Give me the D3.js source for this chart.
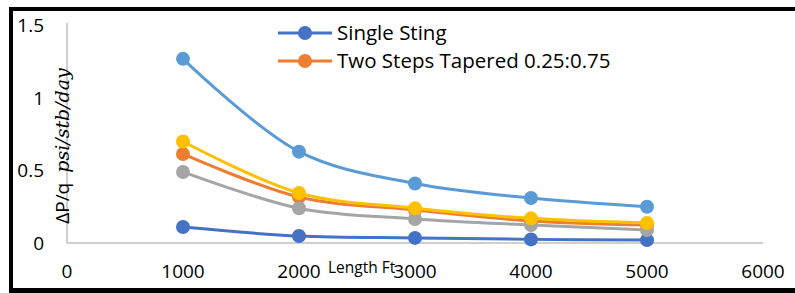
<html>
<head>
  <script src="https://d3js.org/d3.v7.min.js"></script>
</head>
<style>
  body { margin: 0; background: white; }
  text { font-family: "Open Sans", sans-serif; fill: #000; }
</style>
<body>
  <svg id="chart" width="795" height="293"></svg>
  <script>
    // data
    const lengths = [1000, 2000, 3000, 4000, 5000];
    const singleSting = [0.11, 0.048, 0.035, 0.025, 0.02];
    const twoSteps = [0.614, 0.317, 0.228, 0.152, 0.124];
    const seriesGray = [0.49, 0.24, 0.166, 0.124, 0.09];
    const seriesYellow = [0.70, 0.345, 0.24, 0.17, 0.138];
    const seriesLightBlue = [1.27, 0.63, 0.41, 0.31, 0.25];
    const xTicks = [0, 1000, 2000, 3000, 4000, 5000, 6000];
    const yTicks = [0, 0.5, 1, 1.5];
    const legendNames = ["Single Sting", "Two Steps Tapered 0.25:0.75"];

    const series = [
      { name: legendNames[0], values: singleSting, color: "#4472C4" },
      { name: legendNames[1], values: twoSteps, color: "#ED7D31" },
      { name: "Series 3", values: seriesGray, color: "#A5A5A5" },
      { name: "Series 4", values: seriesYellow, color: "#FFC000" },
      { name: "Series 5", values: seriesLightBlue, color: "#5B9BD5" }
    ];

    const svg = d3.select("svg#chart");
    const width = +svg.attr("width");
    const height = +svg.attr("height");

    const xScale = d3.scaleLinear().domain([0, 6000]).range([67, 763]);
    const yScale = d3.scaleLinear().domain([0, 1.5]).range([243, 25.5]);

    // outer frame (thick black on top, left, bottom)
    svg.append("rect").attr("x", 0).attr("y", 0).attr("width", width).attr("height", height).attr("fill", "white");
    svg.append("line").attr("x1", 9).attr("x2", width).attr("y1", 9).attr("y2", 9)
      .attr("stroke", "black").attr("stroke-width", 4);
    svg.append("line").attr("x1", 11).attr("x2", 11).attr("y1", 7).attr("y2", 293)
      .attr("stroke", "black").attr("stroke-width", 4);
    svg.append("line").attr("x1", 9).attr("x2", width).attr("y1", 290.5).attr("y2", 290.5)
      .attr("stroke", "black").attr("stroke-width", 5);

    // axis lines
    svg.append("line").attr("x1", xScale(0)).attr("x2", xScale(0))
      .attr("y1", 23).attr("y2", yScale(0))
      .attr("stroke", "#BFBFBF").attr("stroke-width", 1.5);
    svg.append("line").attr("x1", xScale(0)).attr("x2", xScale(6000))
      .attr("y1", yScale(0)).attr("y2", yScale(0))
      .attr("stroke", "#BFBFBF").attr("stroke-width", 1.5);

    // tick labels
    svg.append("g").selectAll("text").data(yTicks).join("text")
      .attr("x", 44).attr("y", d => yScale(d))
      .attr("dy", "0.35em")
      .attr("text-anchor", "end")
      .attr("font-size", 19)
      .text(d => d);

    svg.append("g").selectAll("text").data(xTicks).join("text")
      .attr("x", d => xScale(d)).attr("y", 278)
      .attr("text-anchor", "middle")
      .attr("font-size", 19)
      .text(d => d);

    // axis titles
    svg.append("text").attr("x", 328).attr("y", 273)
      .attr("font-size", 15.5).text("Length Ft");

    const yTitle = svg.append("text")
      .attr("transform", "translate(69,146) rotate(-90)")
      .attr("text-anchor", "middle")
      .attr("font-size", 19);
    yTitle.append("tspan").text("ΔP/q");
    yTitle.append("tspan")
      .attr("dx", 10)
      .attr("font-family", "'DejaVu Serif', serif")
      .attr("font-style", "italic")
      .attr("font-size", 19)
      .text("psi/stb/day");

    // lines
    const lineGen = d3.line()
      .x((d, i) => xScale(lengths[i]))
      .y(d => yScale(d))
      .curve(d3.curveCatmullRom.alpha(0.5));

    const plot = svg.append("g");
    series.forEach(s => {
      plot.append("path")
        .datum(s.values)
        .attr("d", lineGen)
        .attr("fill", "none")
        .attr("stroke", s.color)
        .attr("stroke-width", 3);
      plot.append("g").selectAll("circle").data(s.values).join("circle")
        .attr("cx", (d, i) => xScale(lengths[i]))
        .attr("cy", d => yScale(d))
        .attr("r", 7)
        .attr("fill", s.color);
    });

    // legend (only two entries visible)
    const legend = svg.append("g");
    series.slice(0, 2).forEach((s, i) => {
      const y = 33 + i * 28;
      legend.append("line").attr("x1", 278).attr("x2", 332).attr("y1", y).attr("y2", y)
        .attr("stroke", s.color).attr("stroke-width", 3);
      legend.append("circle").attr("cx", 305).attr("cy", y).attr("r", 7).attr("fill", s.color);
      legend.append("text").attr("x", 337).attr("y", y).attr("dy", "0.35em")
        .attr("font-size", 20.5).text(s.name);
    });
  </script>
</body>
</html>
